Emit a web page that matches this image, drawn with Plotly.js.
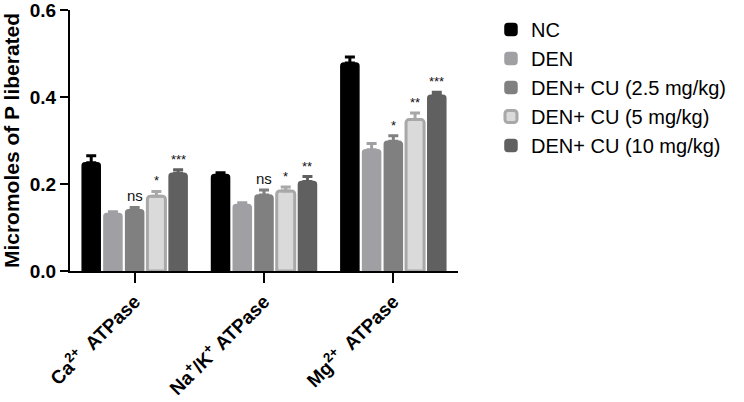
<!DOCTYPE html>
<html>
<head>
<meta charset="utf-8">
<script src="https://cdn.plot.ly/plotly-3.0.1.min.js"></script>
<style>
  html, body { margin: 0; padding: 0; background: #fff; }
  #chart { width: 744px; height: 402px; }
</style>
</head>
<body>
<div id="chart"></div>
<script>
// enzyme groups on the x axis
const categories = ['Ca<sup>2+</sup>  ATPase', 'Na<sup>+</sup>/K<sup>+</sup> ATPase', 'Mg<sup>2+</sup>  ATPase']

// series: mean and upper error (SEM)
const group_names = ['NC', 'DEN', 'DEN+ CU (2.5 mg/kg)', 'DEN+ CU (5 mg/kg)', 'DEN+ CU (10 mg/kg)']
const nc = [0.249, 0.222, 0.478]
const nc_err = [0.016, 0.004, 0.014]
const den = [0.132, 0.153, 0.279]
const den_err = [0.004, 0.004, 0.014]
const cu25 = [0.141, 0.175, 0.298]
const cu25_err = [0.005, 0.011, 0.013]
const cu5 = [0.172, 0.184, 0.348]
const cu5_err = [0.011, 0.009, 0.015]
const cu10 = [0.225, 0.206, 0.404]
const cu10_err = [0.008, 0.011, 0.007]

// significance marks (vs DEN)
const cu25_sig = ['ns', 'ns', '*']
const cu5_sig = ['*', '*', '**']
const cu10_sig = ['***', '**', '***']

const series = [
    { name: group_names[0], y: nc, err: nc_err, fill: '#000000', edge: '#000000', sig: null },
    { name: group_names[1], y: den, err: den_err, fill: '#a0a0a4', edge: '#a0a0a4', sig: null },
    { name: group_names[2], y: cu25, err: cu25_err, fill: '#808080', edge: '#808080', sig: cu25_sig },
    { name: group_names[3], y: cu5, err: cu5_err, fill: '#dadada', edge: '#a8a8a8', sig: cu5_sig },
    { name: group_names[4], y: cu10, err: cu10_err, fill: '#606060', edge: '#606060', sig: cu10_sig }
]

const FONT = 'Arial, "Liberation Sans", sans-serif'
const bargap = 0.16

const traces = series.map((s, i) => ({
    type: 'bar',
    name: s.name,
    legendgroup: 'g' + i,
    x: categories,
    y: s.y,
    marker: { color: s.fill, line: { color: s.edge, width: i == 3 ? 3 : 1.5 }, cornerradius: 3 },
    error_y: {
        type: 'data',
        symmetric: false,
        array: s.err,
        arrayminus: s.err.map(() => 0),
        color: s.edge,
        thickness: 3,
        width: 5
    },
    hoverinfo: 'skip'
}))

// labels above the error bars, placed at each bar's slot centre
const annotations = []
series.forEach((s, i) => {
    if (!s.sig) return
    s.sig.forEach((label, k) => {
        const slot = (1 - bargap) / series.length
        annotations.push({
            xref: 'x', yref: 'y',
            x: k + (i - 2) * slot,
            y: s.y[k] + s.err[k],
            text: label,
            showarrow: false,
            yanchor: 'bottom',
            yshift: 1,
            font: { family: FONT, size: label == 'ns' ? 15 : 13, color: '#111' }
        })
    })
})

const layout = {
    width: 744,
    height: 402,
    margin: { l: 70, r: 286, t: 10, b: 131 },
    paper_bgcolor: '#fff',
    plot_bgcolor: '#fff',
    barmode: 'group',
    bargap: bargap,
    bargroupgap: 0.17,
    font: { family: FONT, color: '#000' },
    xaxis: {
        type: 'category',
        showline: true, linewidth: 2, linecolor: '#000',
        ticks: 'outside', ticklen: 10, tickwidth: 2, tickcolor: '#000',
        tickangle: -45,
        tickfont: { family: FONT, size: 19, weight: 'bold' },
        showgrid: false, zeroline: false
    },
    yaxis: {
        range: [0, 0.6],
        dtick: 0.2,
        tickformat: '.1f',
        showline: true, linewidth: 2, linecolor: '#000',
        ticks: 'outside', ticklen: 8, tickwidth: 2, tickcolor: '#000',
        tickfont: { family: FONT, size: 19, weight: 'bold' },
        ticklabeloverflow: 'allow',
        showgrid: false, zeroline: false,
        title: { text: 'Micromoles of P liberated', font: { family: FONT, size: 21, weight: 'bold' }, standoff: 7 }
    },
    legend: {
        x: 1.085, y: 1.0, xanchor: 'left', yanchor: 'top',
        font: { family: FONT, size: 20 },
        tracegroupgap: 4,
        traceorder: 'normal'
    },
    annotations: annotations
}

Plotly.newPlot('chart', traces, layout, { displayModeBar: false, staticPlot: true })
</script>
</body>
</html>
